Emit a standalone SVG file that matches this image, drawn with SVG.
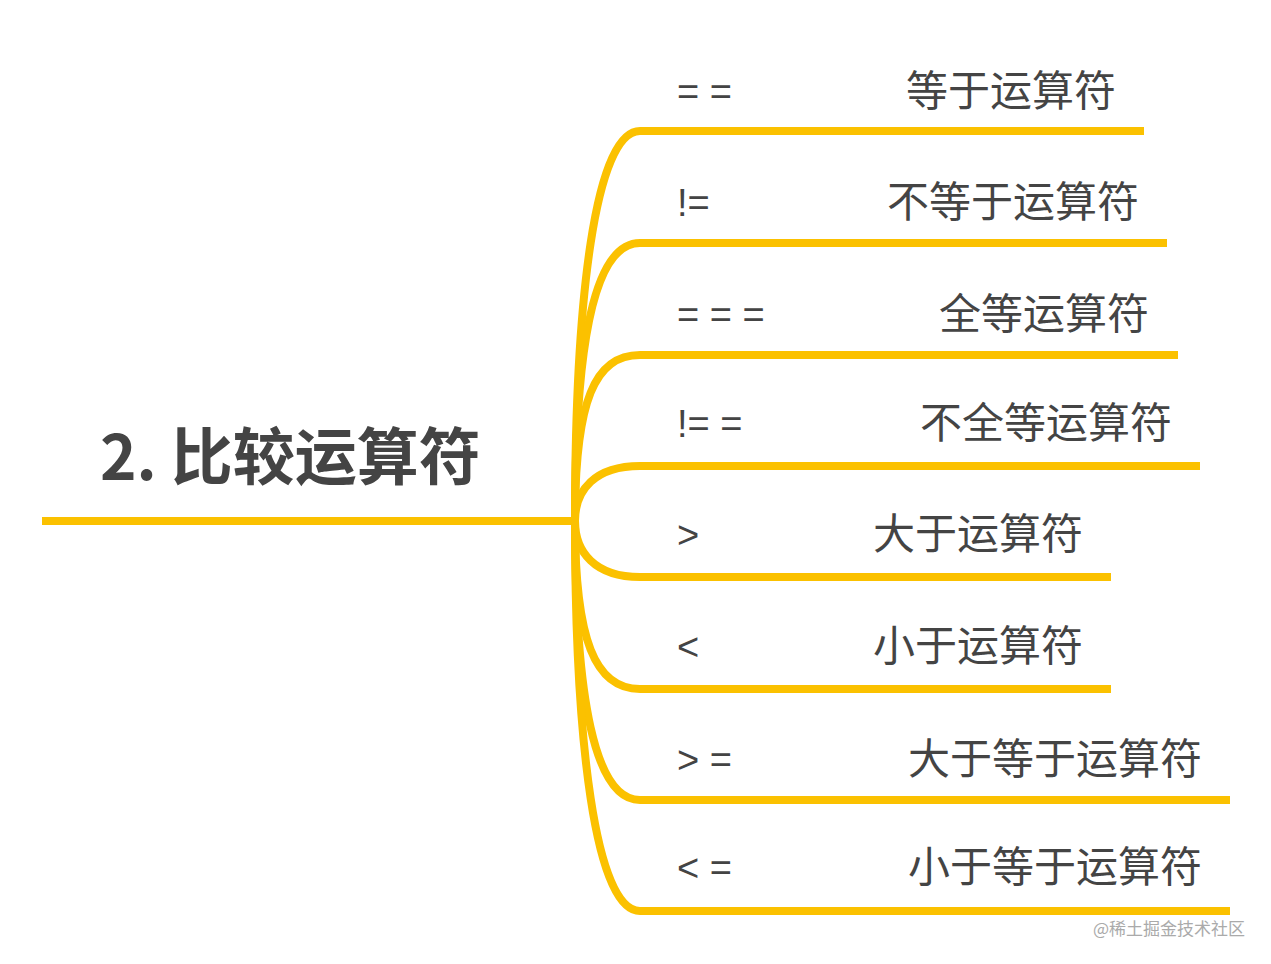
<svg xmlns="http://www.w3.org/2000/svg" width="1271" height="964" viewBox="0 0 1271 964">
<style>
.l{fill:none;stroke:#FBC100;stroke-width:8;stroke-linecap:butt}
.op{font-family:"Liberation Sans","DejaVu Sans",sans-serif;font-size:38px;fill:#444}
.cn{font-family:"Noto Sans CJK SC",sans-serif;font-size:42px;fill:#444;text-anchor:end}
</style>
<rect width="1271" height="964" fill="#fff"/>
<g id="connectors">
<path class="l" d="M42,521 H575"/>
<path class="l" d="M575,521 C575,300 595,131 640,131 H1144"/>
<path class="l" d="M575,521 C575,340 595,243 640,243 H1167"/>
<path class="l" d="M575,521 C575,400 595,355 640,355 H1178"/>
<path class="l" d="M575,521 C575,490 595,466 640,466 H1200"/>
<path class="l" d="M575,521 C575,552 595,577 640,577 H1111"/>
<path class="l" d="M575,521 C575,640 595,689 640,689 H1111"/>
<path class="l" d="M575,521 C575,700 595,800 640,800 H1230"/>
<path class="l" d="M575,521 C575,740 595,911 640,911 H1230"/>
</g>
<g id="root"><text x="100" y="480" font-family="Noto Sans CJK SC,sans-serif" font-size="62" font-weight="bold" fill="#444">2. 比较运算符</text></g>
<g id="n1"><text class="op" x="677" y="105">= =</text><text class="cn" x="1116" y="106">等于运算符</text></g>
<g id="n2"><text class="op" x="677" y="216">!=</text><text class="cn" x="1139" y="217">不等于运算符</text></g>
<g id="n3"><text class="op" x="677" y="328">= = =</text><text class="cn" x="1149" y="329">全等运算符</text></g>
<g id="n4"><text class="op" x="677" y="437">!= =</text><text class="cn" x="1172" y="438">不全等运算符</text></g>
<g id="n5"><text class="op" x="677" y="548">&gt;</text><text class="cn" x="1083" y="549">大于运算符</text></g>
<g id="n6"><text class="op" x="677" y="660">&lt;</text><text class="cn" x="1083" y="661">小于运算符</text></g>
<g id="n7"><text class="op" x="677" y="773">&gt; =</text><text class="cn" x="1202" y="774">大于等于运算符</text></g>
<g id="n8"><text class="op" x="677" y="881">&lt; =</text><text class="cn" x="1202" y="882">小于等于运算符</text></g>
<text x="1245" y="935" text-anchor="end" font-family="Noto Sans CJK SC,sans-serif" font-size="17" fill="#aaa">@稀土掘金技术社区</text>
</svg>
